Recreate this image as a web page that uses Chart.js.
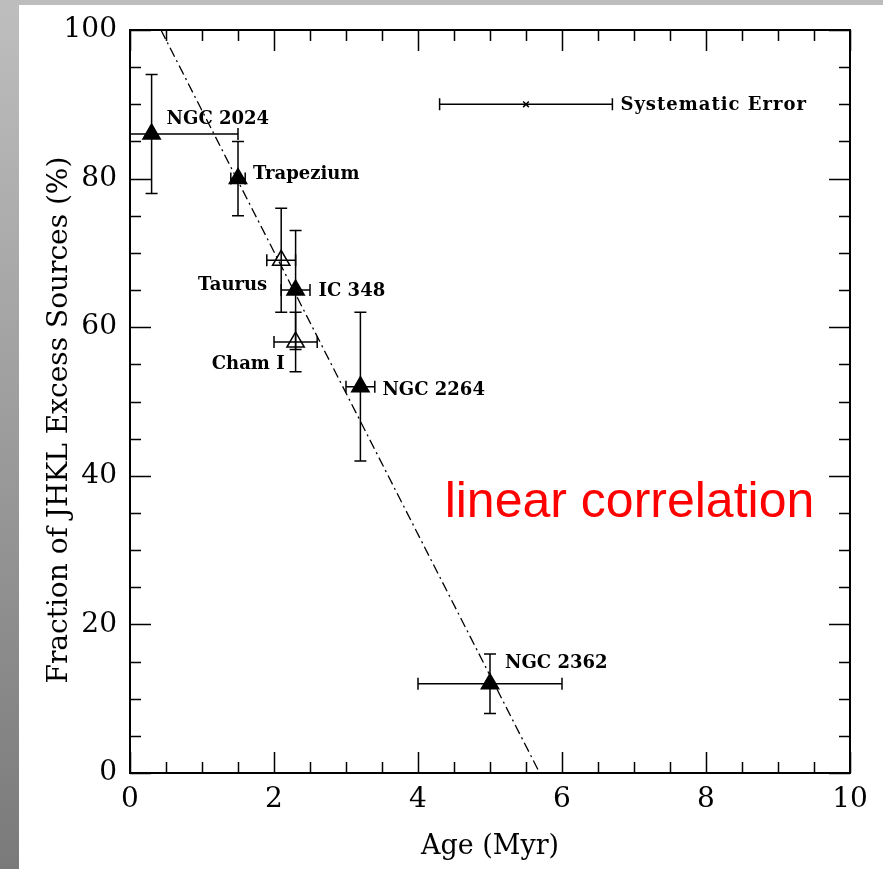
<!DOCTYPE html>
<html>
<head>
<meta charset="utf-8">
<script src="https://cdn.jsdelivr.net/npm/chart.js@4.4.0/dist/chart.umd.min.js"></script>
<style>
  html, body { margin: 0; padding: 0; }
  body {
    width: 883px; height: 869px; overflow: hidden; position: relative;
    background: linear-gradient(to bottom, #bebebe, #7a7a7a);
  }
  #topband { position: absolute; left: 0; top: 0; width: 883px; height: 5px; background: #bdbdbd; }
  #wrap { position: absolute; left: 19px; top: 5px; width: 864px; height: 864px; background: #fff; }
</style>
</head>
<body>
<div id="topband"></div>
<div id="wrap"><canvas id="c" width="864" height="864"></canvas></div>
<script>
// cluster data (age in Myr, fraction of JHKL excess sources in %)
const clusters  = ['NGC 2024', 'Trapezium', 'Taurus', 'IC 348', 'Cham I', 'NGC 2264', 'NGC 2362'];
const ages      = [0.3, 1.5, 2.1, 2.3, 2.3, 3.2, 5.0];
const ageLow    = [-0.9, 1.4, 1.9, 2.1, 2.0, 3.0, 4.0];
const ageHigh   = [1.5, 1.6, 2.3, 2.5, 2.6, 3.4, 6.0];
const fractions = [86, 80, 69, 65, 58, 52, 12];
const fracLow   = [78, 75, 62, 57, 54, 42, 8];
const fracHigh  = [94, 85, 76, 73, 62, 62, 16];
const openSymbol = [false, false, true, false, true, false, false];

// systematic error bar
const sysAge = [5.5];
const sysFrac = [90];
const sysLow = [4.3];
const sysHigh = [6.7];

// linear fit
const fitAge = [0.43, 5.69];
const fitFrac = [100, 0];

const xTicks = [0, 2, 4, 6, 8, 10];
const yTicks = [0, 20, 40, 60, 80, 100];

const SERIF = '"DejaVu Serif", serif';

// label placement relative to the marker (pixels)
const labelPos = {
  'NGC 2024':  { dx: 15, dy: -15, align: 'left' },
  'Trapezium': { dx: 15, dy: -4, align: 'left' },
  'Taurus':    { dx: -14, dy: 25, align: 'right' },
  'IC 348':    { dx: 23, dy: 1, align: 'left' },
  'Cham I':    { dx: -11, dy: 22, align: 'right' },
  'NGC 2264':  { dx: 22, dy: 4, align: 'left' },
  'NGC 2362':  { dx: 15, dy: -21, align: 'left' }
};

function drawBars(ctx, xs, ys, x0, x1, y0, y1, xScale, yScale) {
  const cap = 6;
  for (let i = 0; i < xs.length; i++) {
    const px = xScale.getPixelForValue(xs[i]);
    const py = yScale.getPixelForValue(ys[i]);
    if (y0 && y1) {
      const a = yScale.getPixelForValue(y0[i]);
      const b = yScale.getPixelForValue(y1[i]);
      ctx.beginPath();
      ctx.moveTo(px, a); ctx.lineTo(px, b);
      ctx.moveTo(px - cap, a); ctx.lineTo(px + cap, a);
      ctx.moveTo(px - cap, b); ctx.lineTo(px + cap, b);
      ctx.stroke();
    }
    const l = xScale.getPixelForValue(x0[i]);
    const r = xScale.getPixelForValue(x1[i]);
    ctx.beginPath();
    ctx.moveTo(l, py); ctx.lineTo(r, py);
    ctx.moveTo(l, py - cap); ctx.lineTo(l, py + cap);
    ctx.moveTo(r, py - cap); ctx.lineTo(r, py + cap);
    ctx.stroke();
  }
}

const extras = {
  id: 'extras',
  afterDatasetsDraw(chart) {
    const { ctx, chartArea: a, scales: { x, y } } = chart;
    ctx.save();
    ctx.beginPath();
    ctx.rect(a.left, a.top, a.right - a.left, a.bottom - a.top);
    ctx.clip();
    ctx.strokeStyle = '#000';
    ctx.lineWidth = 1.5;
    drawBars(ctx, ages, fractions, ageLow, ageHigh, fracLow, fracHigh, x, y);
    drawBars(ctx, sysAge, sysFrac, sysLow, sysHigh, null, null, x, y);
    ctx.restore();

    // frame and inward ticks on all four sides
    ctx.save();
    ctx.strokeStyle = '#000';
    ctx.lineWidth = 2;
    ctx.strokeRect(a.left, a.top, a.right - a.left, a.bottom - a.top);
    ctx.lineWidth = 1.5;
    ctx.beginPath();
    for (let v = 0; v <= 10.001; v += 0.5) {
      const p = Math.round(x.getPixelForValue(v)) + 0.5;
      const len = (Math.abs(v % 2) < 1e-6) ? 21 : 11;
      ctx.moveTo(p, a.bottom); ctx.lineTo(p, a.bottom - len);
      ctx.moveTo(p, a.top); ctx.lineTo(p, a.top + len);
    }
    for (let v = 0; v <= 100.001; v += 5) {
      const p = Math.round(y.getPixelForValue(v)) + 0.5;
      const len = (v % 20 === 0) ? 21 : 11;
      ctx.moveTo(a.left, p); ctx.lineTo(a.left + len, p);
      ctx.moveTo(a.right, p); ctx.lineTo(a.right - len, p);
    }
    ctx.stroke();

    // cluster labels
    ctx.fillStyle = '#000';
    ctx.font = 'bold 18px ' + SERIF;
    ctx.textBaseline = 'middle';
    clusters.forEach((name, i) => {
      const o = labelPos[name];
      ctx.textAlign = o.align;
      ctx.fillText(name, x.getPixelForValue(ages[i]) + o.dx, y.getPixelForValue(fractions[i]) + o.dy);
    });
    ctx.textAlign = 'left';
    ctx.letterSpacing = '1px';
    ctx.fillText('Systematic Error', x.getPixelForValue(sysHigh[0]) + 8, y.getPixelForValue(sysFrac[0]) + 1);
    ctx.letterSpacing = '0px';

    // red annotation
    ctx.fillStyle = '#ff0000';
    ctx.font = '50px "Liberation Sans", Arial, sans-serif';
    ctx.textBaseline = 'alphabetic';
    ctx.fillText('linear correlation', x.getPixelForValue(4.37), y.getPixelForValue(34.5));

    // y axis title
    ctx.fillStyle = '#000';
    ctx.font = '28px ' + SERIF;
    ctx.textAlign = 'center';
    ctx.textBaseline = 'middle';
    ctx.translate(41, y.getPixelForValue(47.5));
    ctx.rotate(-Math.PI / 2);
    ctx.fillText('Fraction of JHKL Excess Sources (%)', 0, 0);
    ctx.restore();
  }
};

new Chart(document.getElementById('c'), {
  type: 'scatter',
  data: {
    datasets: [
      {
        type: 'line',
        data: fitAge.map((v, i) => ({ x: v, y: fitFrac[i] })),
        borderColor: '#000',
        borderWidth: 1.3,
        borderDash: [10, 4, 2, 4],
        pointRadius: 0,
        fill: false
      },
      {
        data: ages.map((v, i) => ({ x: v, y: fractions[i] })),
        pointStyle: 'triangle',
        pointRadius: 10,
        pointBackgroundColor: openSymbol.map(o => o ? '#fff' : '#000'),
        pointBorderColor: '#000',
        pointBorderWidth: 1.5
      },
      {
        data: sysAge.map((v, i) => ({ x: v, y: sysFrac[i] })),
        pointStyle: 'crossRot',
        pointRadius: 4,
        pointBorderColor: '#000',
        pointBorderWidth: 1.5
      }
    ]
  },
  options: {
    responsive: false,
    animation: false,
    events: [],
    layout: { padding: { left: 0, right: 33, top: 25, bottom: 0 } },
    plugins: { legend: { display: false }, tooltip: { enabled: false } },
    scales: {
      x: {
        type: 'linear', min: 0, max: 10,
        afterBuildTicks: s => { s.ticks = xTicks.map(v => ({ value: v })); },
        afterFit: s => { s.height = 96; s.paddingLeft = 0; s.paddingRight = 0; },
        grid: { display: false, drawTicks: false },
        border: { display: false },
        ticks: { color: '#000', padding: 10, maxRotation: 0, font: { family: SERIF, size: 28 } },
        title: { display: true, text: 'Age (Myr)', color: '#000', font: { family: SERIF, size: 27 }, padding: { bottom: 6 } }
      },
      y: {
        type: 'linear', min: 0, max: 100,
        afterBuildTicks: s => { s.ticks = yTicks.map(v => ({ value: v })); },
        afterFit: s => { s.width = 111; s.paddingTop = 0; s.paddingBottom = 0; },
        grid: { display: false, drawTicks: false },
        border: { display: false },
        ticks: { color: '#000', padding: 13, font: { family: SERIF, size: 28 } }
      }
    }
  },
  plugins: [extras]
});
</script>
</body>
</html>
